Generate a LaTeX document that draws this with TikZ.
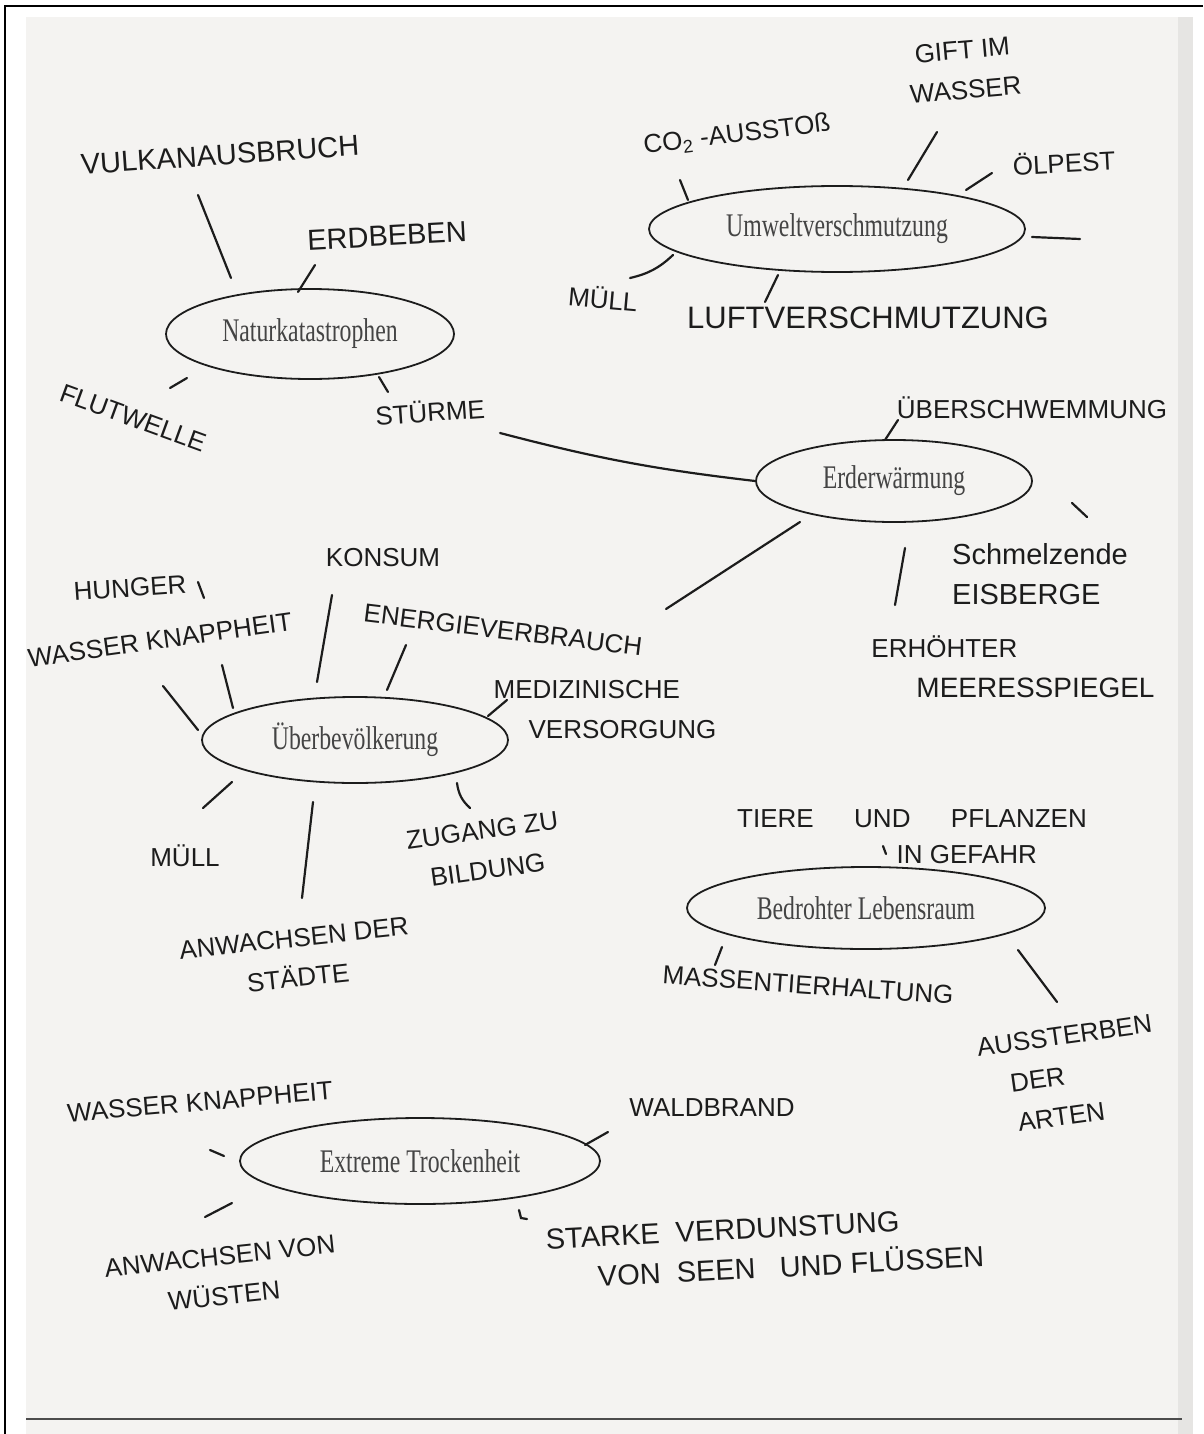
\documentclass[tikz,border=0pt]{standalone}
\usepackage{fontspec}
\usepackage{graphicx}
\setmainfont{Liberation Serif}
\newfontfamily\handfont{Liberation Sans}
\usetikzlibrary{shapes.geometric,positioning}
\definecolor{paper}{HTML}{F4F3F1}
\definecolor{edge}{HTML}{E6E5E3}
\definecolor{ink}{HTML}{1C1C1C}
\definecolor{print}{HTML}{444444}
\tikzset{
    topic/.style={draw=ink, ellipse, line width=1.8pt, inner sep=0pt, text=print,
        font=\fontsize{33}{34}\selectfont},
    hand/.style={text=ink, font=\handfont\fontsize{26}{40}\selectfont, align=center, inner sep=0pt},
    big/.style={font=\handfont\fontsize{29}{40}\selectfont},
    stroke/.style={draw=ink, line width=2.2pt, line cap=round}
}
\newcommand{\slim}[1]{\scalebox{0.72}[1]{#1}}

\begin{document}
\begin{tikzpicture}[x=1pt, y=-1pt]
    \useasboundingbox (0,0) rectangle (1203,1434);
    % sheet
    \fill[white] (0,0) rectangle (1203,1434);
    \fill[paper] (26,17) rectangle (1178,1434);
    \fill[edge] (1178,17) rectangle (1193,1434);
    \draw[line width=2pt] (5,1434) -- (5,6) -- (1203,6);
    \draw[line width=2.5pt, black!70] (26,1419) -- (1182,1419);

    % topics
    \node[topic, minimum width=288pt, minimum height=90pt] (nat) at (310,334) {\slim{Naturkatastrophen}};
    \node[topic, minimum width=376pt, minimum height=86pt] (umw) at (837,229) {\slim{Umweltverschmutzung}};
    \node[topic, minimum width=276pt, minimum height=82pt] (erd) at (894,481) {\slim{Erderwärmung}};
    \node[topic, minimum width=306pt, minimum height=86pt] (ueb) at (355,740) {\slim{Überbevölkerung}};
    \node[topic, minimum width=358pt, minimum height=82pt] (leb) at (866,908) {\slim{Bedrohter Lebensraum}};
    \node[topic, minimum width=360pt, minimum height=86pt] (tro) at (420,1161) {\slim{Extreme Trockenheit}};

    % Naturkatastrophen
    \node[hand, big, rotate=4] (vulkan) at (220,155) {VULKANAUSBRUCH};
    \node[hand, big, rotate=3] (erdbeben) at (387,236) {ERDBEBEN};
    \node[hand, rotate=-20] (flut) at (133,418) {FLUTWELLE};
    \node[hand, rotate=4] (stuerme) at (430,411) {STÜRME};

    % Umweltverschmutzung
    \node[hand, rotate=7] (co) at (737,135) {CO\textsubscript{2} -AUSSTOß};
    \node[hand, rotate=5] (gift) at (964,70) {GIFT IM\\WASSER};
    \node[hand, rotate=3] (oel) at (1064,162) {ÖLPEST};
    \node[hand, rotate=-5] (muell) at (603,298) {MÜLL};
    \node[hand, font=\handfont\fontsize{31}{40}\selectfont] (luft) at (868,318) {LUFTVERSCHMUTZUNG};

    % Erderwaermung
    \node[hand, big, align=left] (eis) at (1040,574) {Schmelzende\\EISBERGE};
    \node[hand] (flood) at (1032,408) {ÜBERSCHWEMMUNG};
    \node[hand, align=left] (meer) at (1013,667) {ERHÖHTER\\\hspace*{45pt}\fontsize{28}{40}\selectfont MEERESSPIEGEL};

    % Ueberbevoelkerung
    \node[hand, rotate=4] (hunger) at (130,588) {HUNGER};
    \node[hand, rotate=8] (wasser) at (160,640) {WASSER KNAPPHEIT};
    \node[hand] (konsum) at (383,558) {KONSUM};
    \node[hand, rotate=-7] (energie) at (503,630) {ENERGIEVERBRAUCH};
    \node[hand, align=left] (medizin) at (605,710) {MEDIZINISCHE\\\hspace*{35pt}VERSORGUNG};
    \node[hand] (muell2) at (185,856) {MÜLL};
    \node[hand, rotate=8] (zugang) at (485,850) {ZUGANG ZU\\BILDUNG};
    \node[hand, rotate=6] (staedte) at (296,958) {ANWACHSEN DER\\STÄDTE};

    % Bedrohter Lebensraum
    \node[hand, align=right, font=\handfont\fontsize{26}{36}\selectfont] (tiere) at (912,837) {TIERE \quad\ UND \quad\ PFLANZEN\\IN GEFAHR\hspace*{50pt}};
    \node[hand, rotate=-4] (massen) at (808,985) {MASSENTIERHALTUNG};
    \node[hand, align=left, rotate=8] (arten) at (1070,1075) {AUSSTERBEN\\\hspace*{28pt}DER\\\hspace*{30pt}ARTEN};

    % Extreme Trockenheit
    \node[hand, rotate=5] (wasser2) at (200,1102) {WASSER KNAPPHEIT};
    \node[hand] (wald) at (712,1108) {WALDBRAND};
    \node[hand, rotate=6] (wueste) at (222,1276) {ANWACHSEN VON\\WÜSTEN};
    \node[hand, big, align=left, rotate=3] (verd) at (765,1248) {STARKE \ VERDUNSTUNG\\\hspace*{50pt}VON \ SEEN \ \ UND FLÜSSEN};

    % strokes
    \foreach \xa/\ya/\xb/\yb in {198/195/231/278, 315/265/298/292, 187/378/170/388, 379/377/388/392,
        680/180/688/200, 937/132/908/180, 992/173/966/190, 1032/237/1080/239, 778/275/765/302,
        898/420/885/440, 1072/503/1087/517, 905/548/895/605,
        198/582/204/598, 163/686/198/730, 222/665/233/708, 332/595/317/682, 406/645/387/690,
        507/700/488/716, 232/782/203/808, 313/802/302/898,
        883/846/886/854, 722/947/715/965, 1018/950/1057/1002,
        210/1150/224/1156, 608/1132/585/1145, 232/1203/205/1217}
        \draw[stroke] (\xa,\ya) -- (\xb,\yb);
    \draw[stroke] (673,255) to[bend left=15] (630,278);
    \draw[stroke] (457,783) to[bend right=20] (470,808);
    \draw[stroke] (519,1210) -- (521,1218) -- (527,1219);
    \draw[stroke] (500,433) to[bend right=4] (erd.west);
    \draw[stroke] (800,522) -- (666,609);
\end{tikzpicture}
\end{document}
